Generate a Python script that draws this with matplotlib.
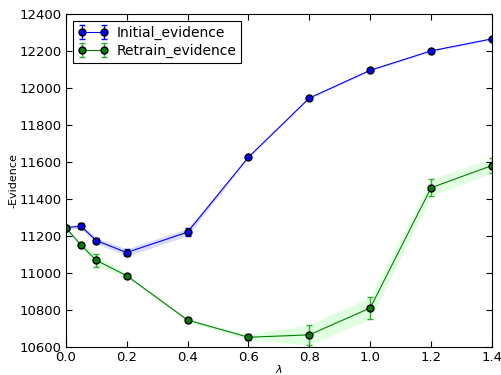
import matplotlib
matplotlib.use('Agg')
import matplotlib.pyplot as plt
from matplotlib.container import ErrorbarContainer
from matplotlib.legend_handler import HandlerErrorbar
import numpy as np

lam = [0.0, 0.05, 0.1, 0.2, 0.4, 0.6, 0.8, 1.0, 1.2, 1.4]

initial = [11245, 11252, 11175, 11110, 11220, 11625, 11945, 12095, 12200, 12265]
initial_err = [5, 15, 15, 20, 20, 5, 5, 5, 5, 5]

retrain = [11245, 11150, 11068, 10985, 10745, 10652, 10665, 10810, 11460, 11580]
retrain_err = [5, 10, 35, 8, 8, 15, 55, 60, 45, 40]

fig = plt.figure(figsize=(5.02, 3.75), dpi=100)
fig.patch.set_facecolor('white')
ax = fig.add_axes([0.131, 0.075, 0.849, 0.888])

x = np.array(lam)
ini = np.array(initial)
ie = np.array(initial_err)
ret = np.array(retrain)
re = np.array(retrain_err)

ax.fill_between(x, ini - ie, ini + ie, color='#9999ff', alpha=0.35, lw=0)
ax.fill_between(x, ret - re, ret + re, color='#ccffcc', alpha=0.6, lw=0)

ax.errorbar(x, ini, yerr=ie, color='blue', marker='o', markersize=5,
            markerfacecolor='blue', markeredgecolor='black', lw=0.8,
            capsize=2.5, elinewidth=1, label='Initial_evidence')
ax.errorbar(x, ret, yerr=re, color='green', marker='o', markersize=5,
            markerfacecolor='green', markeredgecolor='black', lw=0.8,
            ecolor='#33aa33', capsize=2.5, elinewidth=1, label='Retrain_evidence')

ax.set_xlim(0, 1.4)
ax.set_ylim(10600, 12400)
ax.set_xticks(np.arange(0, 1.41, 0.2))
ax.set_yticks(np.arange(10600, 12401, 200))
ax.tick_params(direction='in', top=True, right=True, labelsize=9.5, length=4, pad=3)
ax.set_xlabel(r'$\lambda$', fontsize=8, labelpad=-1)
ax.set_ylabel('-Evidence', fontsize=8, labelpad=1)

leg = ax.legend(loc='upper left', fancybox=False, fontsize=10,
                handlelength=2.2, borderpad=0.35, labelspacing=0.3,
                handletextpad=0.6, framealpha=1, edgecolor='black',
                handler_map={ErrorbarContainer: HandlerErrorbar(numpoints=2)})
leg.get_frame().set_linewidth(0.8)

fig.savefig('out.png', dpi=100, facecolor='white')
